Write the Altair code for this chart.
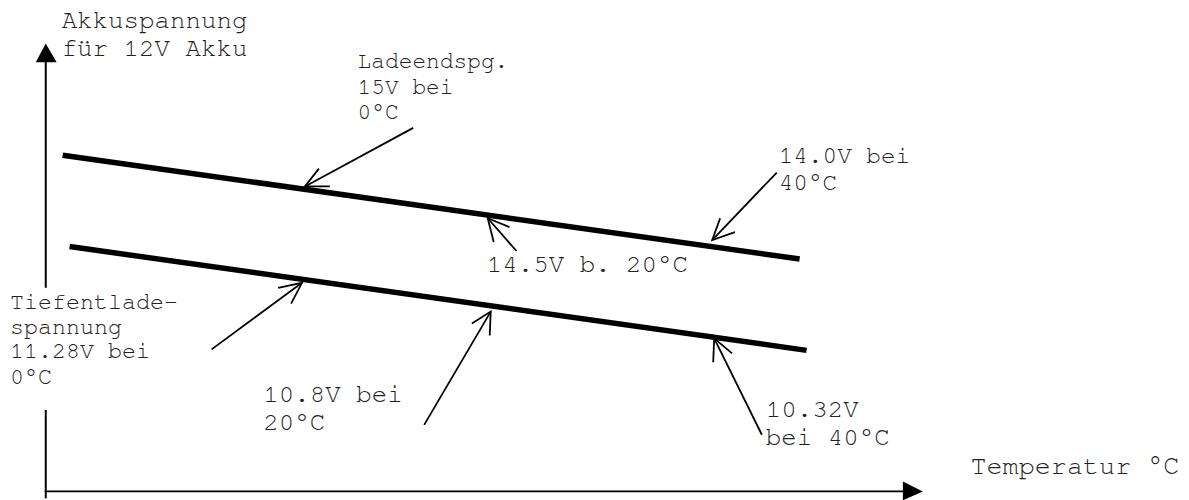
import altair as alt
import pandas as pd

# ---------------- data (diagram units) ----------------
# Two voltage characteristics (Ladeendspannung / Tiefentladespannung)
curve_names = ["Ladeendspannung", "Ladeendspannung",
               "Tiefentladespannung", "Tiefentladespannung"]
curve_x = [63, 805, 70, 812]
curve_y = [154.5, 259, 246.5, 351]

# Coordinate axes (y axis is interrupted by the label "Tiefentlade-...")
axis_ids = ["yaxis_top", "yaxis_top", "yaxis_bottom", "yaxis_bottom", "xaxis", "xaxis"]
axis_x = [46, 46, 46, 46, 45, 912]
axis_y = [52, 288, 411, 500, 493, 493]

# Filled arrow heads of the axes
xhead_x = [909, 929]
xhead_y_top = [483, 493]
xhead_y_bottom = [502, 493]
yhead_y = [61, 42]
yhead_x_left = [36, 46]
yhead_x_right = [57, 46]

# Annotation arrows (tail -> tip, open V head with two arms)
arrow_tail_x = [416, 520, 782, 213, 427, 767]
arrow_tail_y = [127, 251, 172, 350, 426, 436]
arrow_tip_x = [307, 491, 717, 304, 494, 719]
arrow_tip_y = [186, 218, 240, 283, 312, 339]
arm1_x = [321, 497, 725, 280, 475, 718]
arm1_y = [168, 242, 218, 288, 324, 363]
arm2_x = [332, 513, 740, 293, 493, 737]
arm2_y = [186, 227, 232, 304, 336, 354]

# Text labels (one entry per text line)
label_text = ["Akkuspannung", "für 12V Akku",
              "Ladeendspg.", "15V bei", "0°C",
              "14.0V bei", "40°C",
              "14.5V b. 20°C",
              "Tiefentlade-", "spannung", "11.28V bei", "0°C",
              "10.8V bei", "20°C",
              "10.32V", "bei 40°C",
              "Temperatur °C"]
label_x = [62, 62,
           360, 360, 360,
           784, 784,
           490,
           10, 10, 10, 10,
           265, 265,
           771, 771,
           977]
label_y = [26, 55,
           67, 93, 118,
           162, 190,
           272,
           309, 335, 359, 385,
           403, 431,
           418, 446,
           475]
label_size = [26, 26,
              23, 23, 23,
              24.5, 24.5,
              26,
              23.5, 23.5, 23.5, 23.5,
              26, 26,
              26, 26,
              27]

# ---------------- tables ----------------
curves = pd.DataFrame({"id": curve_names, "x": curve_x, "y": curve_y,
                       "o": list(range(len(curve_x)))})
axes = pd.DataFrame({"id": axis_ids, "x": axis_x, "y": axis_y,
                     "o": list(range(len(axis_x)))})
xhead = pd.DataFrame({"x": xhead_x, "y": xhead_y_top, "y2": xhead_y_bottom})
yhead = pd.DataFrame({"y": yhead_y, "x": yhead_x_left, "x2": yhead_x_right})

rows = []
for i in range(len(arrow_tip_x)):
    rows.append({"id": f"s{i}", "o": 0, "x": arrow_tail_x[i], "y": arrow_tail_y[i]})
    rows.append({"id": f"s{i}", "o": 1, "x": arrow_tip_x[i], "y": arrow_tip_y[i]})
    rows.append({"id": f"h{i}", "o": 0, "x": arm1_x[i], "y": arm1_y[i]})
    rows.append({"id": f"h{i}", "o": 1, "x": arrow_tip_x[i], "y": arrow_tip_y[i]})
    rows.append({"id": f"h{i}", "o": 2, "x": arm2_x[i], "y": arm2_y[i]})
arrows = pd.DataFrame(rows)

labels = pd.DataFrame({"t": label_text, "x": label_x, "y": label_y, "fs": label_size})

# ---------------- scales ----------------
W, H = 1181, 492
xs = alt.Scale(domain=[8, 8 + W], nice=False, zero=False)
ys = alt.Scale(domain=[8, 8 + H], nice=False, zero=False, reverse=True)

X = lambda f="x": alt.X(f"{f}:Q", scale=xs, axis=None)
Y = lambda f="y": alt.Y(f"{f}:Q", scale=ys, axis=None)

FONT = "'Nimbus Mono PS', 'Nimbus Mono L', 'FreeMono', 'Courier 10 Pitch', 'Liberation Mono', monospace"

axis_layer = alt.Chart(axes).mark_line(color="black", strokeWidth=2).encode(
    x=X(), y=Y(), detail="id:N", order="o:Q")

xhead_layer = alt.Chart(xhead).mark_area(color="black", orient="vertical").encode(
    x=X(), y=Y(), y2="y2:Q")

yhead_layer = alt.Chart(yhead).mark_area(color="black", orient="horizontal").encode(
    y=Y(), x=X(), x2="x2:Q")

curve_layer = alt.Chart(curves).mark_line(color="black", strokeWidth=5.5).encode(
    x=X(), y=Y(), detail="id:N", order="o:Q")

arrow_layer = alt.Chart(arrows).mark_line(color="black", strokeWidth=1.8).encode(
    x=X(), y=Y(), detail="id:N", order="o:Q")

text_layer = alt.Chart(labels).mark_text(
    font=FONT, align="left", baseline="alphabetic", color="#222222"
).encode(
    x=X(), y=Y(), text="t:N",
    size=alt.Size("fs:Q", scale=None, legend=None))

chart = alt.layer(
    axis_layer, xhead_layer, yhead_layer, curve_layer, arrow_layer, text_layer
).properties(
    width=W, height=H, padding=0, autosize="none"
).configure_view(stroke=None)

chart.save("out.html", embed_options={"renderer": "svg", "actions": False})
